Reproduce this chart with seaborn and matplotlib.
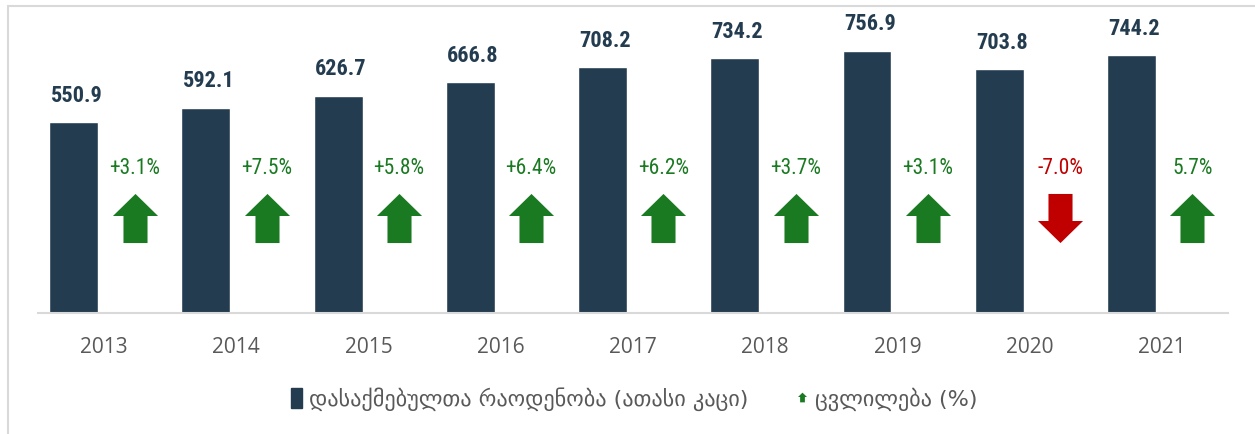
import numpy as np
import pandas as pd
import matplotlib
matplotlib.use("Agg")
import matplotlib.pyplot as plt
from matplotlib.path import Path
from matplotlib.patches import Patch, Rectangle
from matplotlib.lines import Line2D
import seaborn as sns

# data
years = ["2013", "2014", "2015", "2016", "2017", "2018", "2019", "2020", "2021"]
employed = [550.9, 592.1, 626.7, 666.8, 708.2, 734.2, 756.9, 703.8, 744.2]
change_labels = ["+3.1%", "+7.5%", "+5.8%", "+6.4%", "+6.2%", "+3.7%", "+3.1%", "-7.0%", "5.7%"]
change_up = [True, True, True, True, True, True, True, False, True]
series_names = ["დასაქმებულთა რაოდენობა (ათასი კაცი)", "ცვლილება (%)"]

NAVY = "#243C50"
GREEN = "#1A7A22"
RED = "#C00000"
GRAY = "#595959"
LINE = "#D9D9D9"

sns.set_style("white")
plt.rcParams["font.family"] = ["DejaVu Sans"]
NARROW = ["Liberation Sans Narrow", "Roboto Condensed", "DejaVu Sans"]

# arrow marker paths
up_verts = [(-12, -24.5), (12, -24.5), (12, 2.5), (22.5, 2.5), (0, 24.5),
            (-22.5, 2.5), (-12, 2.5), (-12, -24.5)]
up_arrow = Path(up_verts, [Path.MOVETO] + [Path.LINETO] * 6 + [Path.CLOSEPOLY])
down_arrow = Path([(x, -y) for x, y in up_verts],
                  [Path.MOVETO] + [Path.LINETO] * 6 + [Path.CLOSEPOLY])

fig = plt.figure(figsize=(12.55, 4.34), dpi=100)
ax = fig.add_axes([38 / 1255, 1 - 313 / 434, (1228 - 38) / 1255, (313 - 20) / 434])

idx = np.arange(len(years))
off = 0.23
df = pd.DataFrame({"pos": idx - off, "value": employed})
sns.barplot(data=df, x="pos", y="value", native_scale=True, width=0.37,
            color=NAVY, saturation=1, ax=ax)

# value labels
for x, v in zip(df["pos"], employed):
    ax.annotate(f"{v:.1f}", (x + 0.02, v), xytext=(0, 11), textcoords="offset points",
                ha="center", va="bottom", fontsize=16, fontweight="bold",
                fontstretch="condensed", color=NAVY, family=NARROW)

# change arrows + labels
arrow_y = 273
label_y = 418
ups = pd.DataFrame({"x": [i + off for i in idx if change_up[i]],
                    "y": [arrow_y] * sum(change_up)})
downs = pd.DataFrame({"x": [i + off for i in idx if not change_up[i]],
                      "y": [arrow_y] * (len(idx) - sum(change_up))})
sns.scatterplot(data=ups, x="x", y="y", marker=up_arrow, s=1250,
                color=GREEN, linewidth=0, ax=ax)
sns.scatterplot(data=downs, x="x", y="y", marker=down_arrow, s=1250,
                color=RED, linewidth=0, ax=ax)
for i, lab in enumerate(change_labels):
    ax.text(i + off, label_y, lab, ha="center", va="center", fontsize=15.5,
            fontstretch="condensed", color=GREEN if change_up[i] else RED,
            family=NARROW)

ax.set_xlim(-0.5, 8.5)
ax.set_ylim(0, 845)
ax.set_xticks(idx)
ax.set_xticklabels(years, fontsize=15, color=GRAY, family=["Open Sans", "DejaVu Sans"])
ax.set_yticks([])
ax.tick_params(axis="x", length=0, pad=17)
ax.set_xlabel("")
ax.set_ylabel("")
for s in ["top", "right", "left"]:
    ax.spines[s].set_visible(False)
ax.spines["bottom"].set_color(LINE)
ax.spines["bottom"].set_linewidth(1.5)

# legend
handles = [Patch(facecolor=NAVY, edgecolor=NAVY),
           Line2D([], [], linestyle="none", marker=up_arrow, markersize=7,
                  color=GREEN, markeredgewidth=0)]
fig.legend(handles, series_names, loc="center", bbox_to_anchor=(634 / 1255, 1 - 399 / 434),
           ncol=2, frameon=False, fontsize=16, handlelength=0.5, handleheight=1.0,
           handletextpad=0.3, columnspacing=2.2, labelcolor=GRAY)

# outer border
fig.add_artist(Rectangle((8 / 1255, -0.1), 1.2, 1.1 - 6 / 434, transform=fig.transFigure,
                         fill=False, edgecolor=LINE, linewidth=1.5))

fig.savefig("out.png", dpi=100)
